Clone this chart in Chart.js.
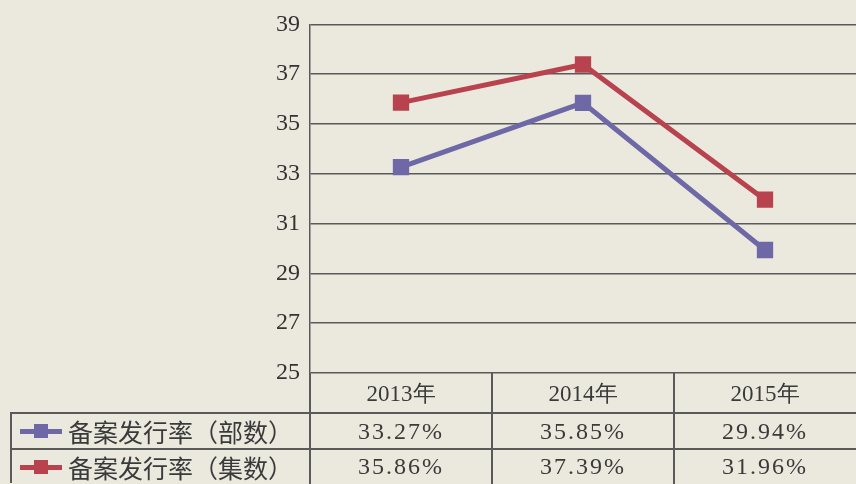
<!DOCTYPE html>
<html>
<head>
<meta charset="utf-8">
<script src="https://cdn.jsdelivr.net/npm/chart.js@4/dist/chart.umd.min.js"></script>
<style>
  html, body { margin: 0; padding: 0; background: #ebe8de; }
  #wrap { position: relative; width: 856px; height: 484px; overflow: hidden; }
  #chart { position: absolute; left: 0; top: 0; }
  .cell { position: absolute; box-sizing: border-box; display: flex; align-items: center; justify-content: center;
          font-family: "Liberation Serif", "DejaVu Serif", serif; font-size: 24px; color: #3a3a3a; letter-spacing: 2px; }
  .head { font-size: 23px; letter-spacing: 0; }
  .legend { justify-content: flex-start; font-family: "Noto Sans CJK SC", sans-serif; font-size: 25px; letter-spacing: 0; }
  .hline, .vline { position: absolute; background: #5a5a5a; }
  .icon { position: relative; width: 42px; height: 14px; margin: 0 6px 0 10px; }
  .icon .bar { position: absolute; left: 0; right: 0; top: 5px; height: 5px; }
  .icon .sq { position: absolute; left: 14px; top: 0; width: 14px; height: 14px; }
</style>
</head>
<body>
<div id="wrap">
  <canvas id="chart" width="869" height="484"></canvas>
</div>
<script>
// Data
const years = ['2013年', '2014年', '2015年'];
const seriesNames = ['备案发行率（部数）', '备案发行率（集数）'];
const rateParts = [33.27, 35.85, 29.94];
const rateEpisodes = [35.86, 37.39, 31.96];
const valueLabels = [
  ['33.27%', '35.85%', '29.94%'],
  ['35.86%', '37.39%', '31.96%']
];

const blue = '#6e69a6';
const red = '#b8434f';
const lineGray = '#5a5a5a';

const ctx = document.getElementById('chart').getContext('2d');
const chart = new Chart(ctx, {
  type: 'line',
  data: {
    labels: years,
    datasets: [{
      label: seriesNames[0],
      data: rateParts,
      borderColor: blue,
      backgroundColor: blue,
      borderWidth: 5,
      pointStyle: 'rect',
      pointRadius: 8,
      pointHoverRadius: 8,
      tension: 0
    }, {
      label: seriesNames[1],
      data: rateEpisodes,
      borderColor: red,
      backgroundColor: red,
      borderWidth: 5,
      pointStyle: 'rect',
      pointRadius: 8,
      pointHoverRadius: 8,
      tension: 0
    }]
  },
  options: {
    responsive: false,
    animation: false,
    layout: { padding: { top: 22, bottom: 111, left: 0, right: 0 } },
    plugins: { legend: { display: false }, tooltip: { enabled: false } },
    scales: {
      x: {
        display: false,
        offset: true
      },
      y: {
        min: 25,
        max: 39,
        afterFit: s => { s.width = 310; },
        ticks: {
          stepSize: 2,
          padding: 10,
          color: '#333',
          font: { family: 'Liberation Serif', size: 24 }
        },
        grid: { color: lineGray, lineWidth: 1.5, drawTicks: false },
        border: { color: lineGray, width: 1.5 }
      }
    }
  }
});

// Data table below the chart, aligned to the x scale
const wrap = document.getElementById('wrap');
const xs = chart.scales.x;
const area = chart.chartArea;
const colW = (area.right - area.left) / years.length;
const rowTops = [area.bottom, 413, 449, 484];
const legendLeft = 10;

function addDiv(cls, l, t, w, h, html) {
  const d = document.createElement('div');
  d.className = cls;
  d.style.left = l + 'px'; d.style.top = t + 'px';
  d.style.width = w + 'px'; d.style.height = h + 'px';
  if (html !== undefined) d.innerHTML = html;
  wrap.appendChild(d);
  return d;
}

// header row
years.forEach((y, i) => {
  const cx = xs.getPixelForValue(i);
  addDiv('cell head', cx - colW / 2, rowTops[0], colW, rowTops[1] - rowTops[0], y);
});

// value rows
const colors = [blue, red];
valueLabels.forEach((row, r) => {
  const top = rowTops[r + 1], h = rowTops[r + 2] - top;
  const leg = addDiv('cell legend', legendLeft, top, area.left - legendLeft, h);
  leg.innerHTML = '<div class="icon"><div class="bar" style="background:' + colors[r] + '"></div>' +
    '<div class="sq" style="background:' + colors[r] + '"></div></div>' + seriesNames[r];
  row.forEach((v, i) => {
    const cx = xs.getPixelForValue(i);
    addDiv('cell', cx - colW / 2, top, colW, h, v);
  });
});

// table lines
addDiv('hline', legendLeft, rowTops[1] - 1, 856 - legendLeft, 1.5);
addDiv('hline', legendLeft, rowTops[2] - 1, 856 - legendLeft, 1.5);
addDiv('vline', legendLeft, rowTops[1] - 1, 1.5, 484 - rowTops[1]);
addDiv('vline', area.left - 0.75, area.bottom, 1.5, 484 - area.bottom);
for (let i = 1; i < years.length; i++) {
  const x = xs.getPixelForValue(i) - colW / 2;
  addDiv('vline', x - 0.75, area.bottom, 1.5, 484 - area.bottom);
}
</script>
</body>
</html>
